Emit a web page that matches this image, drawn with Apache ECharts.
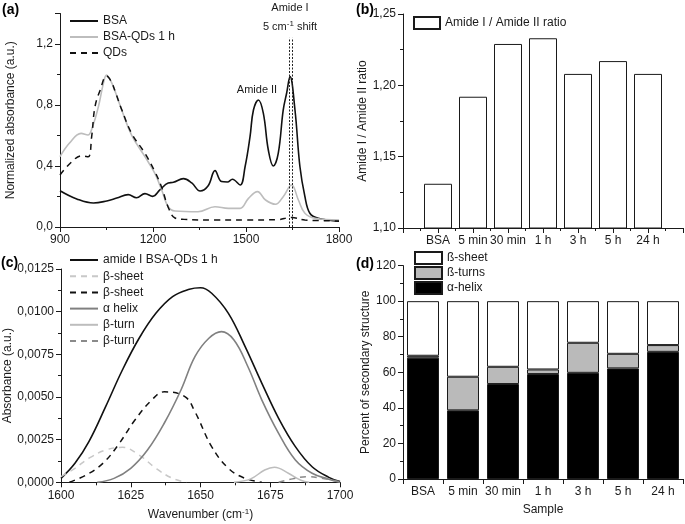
<!DOCTYPE html>
<html>
<head>
<meta charset="utf-8">
<script src="https://cdn.jsdelivr.net/npm/echarts@6/dist/echarts.min.js"></script>
<style>
  html, body { margin: 0; padding: 0; background: #fff; }
  #main { width: 685px; height: 524px; }
</style>
</head>
<body>
<div id="main"></div>
<script>
// (a) FTIR spectra
const bsaWave = [900, 954, 1008, 1051, 1083, 1120, 1147, 1174, 1199, 1223, 1249, 1266, 1298, 1325, 1352, 1378, 1400, 1421, 1440, 1456, 1481, 1497, 1513, 1524, 1540, 1556, 1572, 1588, 1604, 1620, 1631, 1642, 1658, 1674, 1690, 1706, 1733, 1800];
const bsaAbs = [0.238, 0.184, 0.157, 0.171, 0.19, 0.212, 0.192, 0.219, 0.201, 0.245, 0.289, 0.293, 0.317, 0.289, 0.236, 0.27, 0.37, 0.298, 0.295, 0.313, 0.275, 0.395, 0.592, 0.767, 0.833, 0.745, 0.505, 0.40, 0.483, 0.767, 0.877, 0.986, 0.767, 0.395, 0.2, 0.09, 0.057, 0.038];
const mixWave = [900, 930, 968, 990, 1005, 1024, 1040, 1050, 1065, 1080, 1099, 1131, 1174, 1206, 1228, 1249, 1271, 1345, 1400, 1443, 1481, 1508, 1537, 1563, 1595, 1620, 1647, 1669, 1690, 1722, 1800];
const mixAbs = [0.461, 0.549, 0.614, 0.603, 0.658, 0.79, 0.942, 0.997, 0.953, 0.877, 0.767, 0.603, 0.461, 0.352, 0.243, 0.133, 0.105, 0.1, 0.133, 0.122, 0.122, 0.188, 0.232, 0.177, 0.149, 0.199, 0.275, 0.177, 0.09, 0.057, 0.046];
const qdWave = [900, 938, 970, 991, 1002, 1013, 1030, 1050, 1065, 1080, 1099, 1131, 1174, 1206, 1228, 1249, 1271, 1300, 1400, 1500, 1600, 1647, 1690, 1800];
const qdAbs = [0.341, 0.428, 0.467, 0.46, 0.59, 0.79, 0.9, 0.99, 0.955, 0.877, 0.77, 0.614, 0.483, 0.363, 0.26, 0.13, 0.059, 0.05, 0.046, 0.046, 0.048, 0.063, 0.046, 0.04];
const shiftLines = [1641, 1649];
const shiftTop = 1.24;

// (b) amide I / amide II ratio
const samples = ['BSA', '5 min', '30 min', '1 h', '3 h', '5 h', '24 h'];
const ratios = [1.131, 1.192, 1.229, 1.233, 1.208, 1.217, 1.208];

// (c) amide I band deconvolution
const totWave = [1600, 1605, 1610, 1616, 1622, 1628, 1634, 1640, 1646, 1650, 1654, 1660, 1666, 1672, 1678, 1684, 1690, 1696, 1700];
const totAbs = [0.00023, 0.00111, 0.00238, 0.00443, 0.00658, 0.00844, 0.0099, 0.01088, 0.01131, 0.0114, 0.01108, 0.0099, 0.00795, 0.0058, 0.00375, 0.00209, 0.00091, 0.00029, 0.00004];
const sheet1Wave = [1600, 1605, 1610, 1616, 1622, 1628, 1634, 1640, 1645];
const sheet1Abs = [0.00033, 0.00082, 0.00141, 0.00189, 0.00205, 0.0016, 0.00082, 0.00023, 0];
const sheet2Wave = [1603, 1609, 1615, 1620.5, 1626.5, 1632.5, 1637, 1644.4, 1648, 1654, 1660, 1666, 1672];
const sheet2Abs = [0, 0.00043, 0.00111, 0.00219, 0.00365, 0.00482, 0.0053, 0.00502, 0.00414, 0.00209, 0.00082, 0.00023, 0];
const helixWave = [1613, 1619, 1625, 1631, 1637, 1643, 1648, 1653, 1657.5, 1662, 1667, 1672, 1678, 1684, 1690, 1696, 1700];
const helixAbs = [0, 0.00023, 0.00082, 0.00189, 0.00346, 0.00541, 0.00736, 0.00844, 0.00883, 0.00834, 0.00677, 0.00482, 0.00287, 0.00131, 0.00053, 0.00018, 0];
const turn1Wave = [1662, 1668, 1673, 1676.5, 1681.5, 1686, 1689];
const turn1Abs = [0, 0.0002, 0.00072, 0.00088, 0.00053, 0.00012, 0];
const turn2Wave = [1678, 1683, 1688, 1693, 1700];
const turn2Abs = [0, 0.0002, 0.00033, 0.00025, 0.00003];

// (d) secondary structure percentages
const helixPct = [68.2, 38.6, 53.4, 59.0, 59.7, 62.2, 71.5];
const turnPct = [1.1, 18.9, 9.7, 2.6, 16.9, 8.2, 3.8];
const sheetPct = [30.7, 42.5, 36.9, 38.4, 23.4, 29.6, 24.7];

const zip = (xs, ys) => xs.map((x, i) => [x, ys[i]]);
const comma = d => v => v.toFixed(d).replace('.', ',');
const plain = v => String(v);
const FONT = '"Liberation Sans", Arial, sans-serif';
const INK = '#1a1a1a';

function axisBase(extra) {
    return Object.assign({
        axisLine: { show: true, onZero: false, lineStyle: { color: INK, width: 1 } },
        axisTick: { show: true, length: 5, lineStyle: { color: INK } },
        minorTick: { show: true, splitNumber: 2, length: 3, lineStyle: { color: INK } },
        splitLine: { show: false },
        axisLabel: { color: INK, fontSize: 12, margin: 7 },
        nameTextStyle: { color: INK, fontSize: 12 }
    }, extra);
}
const label = (formatter, more) => Object.assign({ color: INK, fontSize: 12, margin: 7, formatter }, more);

const chart = echarts.init(document.getElementById('main'));
const lineSeries = (name, xs, ys, axis, color, width, type) => ({
    name, type: 'line', xAxisIndex: axis, yAxisIndex: axis,
    data: zip(xs, ys), smooth: 0.4, symbol: 'none', silent: true,
    lineStyle: { color, width, type: type || 'solid' },
    itemStyle: { color }
});

const bsa = lineSeries('BSA', bsaWave, bsaAbs, 0, '#111', 1.6);
bsa.markLine = {
    silent: true, symbol: 'none', label: { show: false },
    lineStyle: { color: '#222', width: 1, type: [2, 1.5] },
    data: shiftLines.map(w => [{ coord: [w, 0] }, { coord: [w, shiftTop] }])
};

// line legends: hide the marker, keep the stroke
const lineLegend = { itemWidth: 28, itemHeight: 10, textStyle: { fontSize: 12, color: INK },
    selectedMode: false, orient: 'vertical', itemStyle: { opacity: 0 } };

const option = {
    animation: false,
    textStyle: { fontFamily: FONT },
    grid: [
        { left: 60, top: 13.5, width: 279, height: 213.5, containLabel: false, outerBoundsMode: 'none' },
        { left: 403, top: 14, width: 280, height: 214, containLabel: false, outerBoundsMode: 'none' },
        { left: 61, top: 269, width: 279, height: 213.3, containLabel: false, outerBoundsMode: 'none' },
        { left: 403, top: 265.6, width: 280, height: 213.4, containLabel: false, outerBoundsMode: 'none' }
    ],
    xAxis: [
        axisBase({ type: 'value', gridIndex: 0, min: 900, max: 1800, interval: 300, axisLabel: label(plain) }),
        axisBase({ type: 'value', gridIndex: 1, min: 0, max: 8, interval: 1,
            axisLabel: label(v => samples[v - 1] || '') }),
        axisBase({ type: 'value', gridIndex: 2, min: 1600, max: 1700, interval: 25, axisLabel: label(plain),
            name: 'Wavenumber (cm{sup|-1})', nameLocation: 'middle', nameGap: 25,
            nameTextStyle: { color: INK, fontSize: 12, rich: { sup: { fontSize: 8, verticalAlign: 'top', padding: [0, 0, 6, 0], color: INK } } } }),
        axisBase({ type: 'category', gridIndex: 3, data: samples, boundaryGap: true,
            axisLabel: label(null, { interval: 0 }),
            name: 'Sample', nameLocation: 'middle', nameGap: 25,
            minorTick: { show: false } })
    ],
    yAxis: [
        axisBase({ type: 'value', gridIndex: 0, min: 0, max: 1.4, interval: 0.4,
            name: 'Normalized absorbance (a.u.)', nameLocation: 'middle', nameGap: 43,
            axisLabel: label(comma(1), { showMaxLabel: false }) }),
        axisBase({ type: 'value', gridIndex: 1, min: 1.10, max: 1.25, interval: 0.05,
            name: 'Amide I / Amide II ratio', nameLocation: 'middle', nameGap: 30,
            axisLabel: label(comma(2)) }),
        axisBase({ type: 'value', gridIndex: 2, min: 0, max: 0.0125, interval: 0.0025,
            name: 'Absorbance (a.u.)', nameLocation: 'middle', nameGap: 44,
            axisLabel: label(comma(4)) }),
        axisBase({ type: 'value', gridIndex: 3, min: 0, max: 120, interval: 20,
            name: 'Percent of secondary structure', nameLocation: 'middle', nameGap: 29 })
    ],
    legend: [
        Object.assign({}, lineLegend, { data: ['BSA', 'BSA-QDs 1 h', 'QDs'], left: 64, top: 10, itemGap: 4 }),
        { data: ['Amide I / Amide II ratio'], left: 408, top: 11, icon: 'rect',
          itemWidth: 26, itemHeight: 12, textStyle: { fontSize: 12, color: INK }, selectedMode: false },
        Object.assign({}, lineLegend, { data: ['amide I BSA-QDs 1 h', 'β-sheet', 'β-sheet ', 'α helix', 'β-turn', 'β-turn '],
          left: 64, top: 249, itemGap: 4.2 }),
        { data: ['ß-sheet', 'ß-turns', 'α-helix'], orient: 'vertical', left: 409, top: 246, icon: 'rect',
          itemWidth: 27, itemHeight: 12, itemGap: 1, textStyle: { fontSize: 12, color: INK }, selectedMode: false }
    ],
    series: [
        bsa,
        lineSeries('BSA-QDs 1 h', mixWave, mixAbs, 0, '#bdbdbd', 1.6),
        lineSeries('QDs', qdWave, qdAbs, 0, '#111', 1.5, [6, 5]),
        {
            name: 'Amide I / Amide II ratio', type: 'bar', xAxisIndex: 1, yAxisIndex: 1,
            data: samples.map((s, i) => [i + 1, ratios[i]]), barWidth: 28, silent: true,
            itemStyle: { color: '#fff', borderColor: INK, borderWidth: 1 }
        },
        lineSeries('amide I BSA-QDs 1 h', totWave, totAbs, 2, '#111', 1.6),
        lineSeries('β-sheet', sheet1Wave, sheet1Abs, 2, '#c8c8c8', 1.5, [6, 5]),
        lineSeries('β-sheet ', sheet2Wave, sheet2Abs, 2, '#111', 1.5, [6, 5]),
        lineSeries('α helix', helixWave, helixAbs, 2, '#808080', 1.6),
        lineSeries('β-turn', turn1Wave, turn1Abs, 2, '#bdbdbd', 1.5),
        lineSeries('β-turn ', turn2Wave, turn2Abs, 2, '#8a8a8a', 1.5, [6, 5]),
        {
            name: 'α-helix', type: 'bar', stack: 'ss', xAxisIndex: 3, yAxisIndex: 3,
            data: helixPct, barWidth: 32, silent: true,
            itemStyle: { color: '#000', borderColor: INK, borderWidth: 1 }
        },
        {
            name: 'ß-turns', type: 'bar', stack: 'ss', xAxisIndex: 3, yAxisIndex: 3,
            data: turnPct, barWidth: 32, silent: true,
            itemStyle: { color: '#bababa', borderColor: INK, borderWidth: 1 }
        },
        {
            name: 'ß-sheet', type: 'bar', stack: 'ss', xAxisIndex: 3, yAxisIndex: 3,
            data: sheetPct, barWidth: 32, silent: true,
            itemStyle: { color: '#fff', borderColor: INK, borderWidth: 1 }
        }
    ],
    graphic: [
        { type: 'text', left: 2, top: 3, style: { text: '(a)', font: 'bold 14px ' + FONT, fill: '#000' } },
        { type: 'text', left: 356, top: 3, style: { text: '(b)', font: 'bold 14px ' + FONT, fill: '#000' } },
        { type: 'text', left: 1, top: 256, style: { text: '(c)', font: 'bold 14px ' + FONT, fill: '#000' } },
        { type: 'text', left: 356, top: 257, style: { text: '(d)', font: 'bold 14px ' + FONT, fill: '#000' } },
        { type: 'text', x: 290, y: 8, style: { text: 'Amide I', align: 'center', verticalAlign: 'middle', fontSize: 11, fontFamily: FONT, fill: INK } },
        { type: 'text', x: 290, y: 27, style: { text: '5 cm{sup|-1} shift', align: 'center', verticalAlign: 'middle', fontSize: 11, fontFamily: FONT, fill: INK,
            rich: { sup: { fontSize: 8, verticalAlign: 'top', padding: [0, 0, 6, 0], fill: INK } } } },
        { type: 'text', x: 257, y: 90, style: { text: 'Amide II', align: 'center', verticalAlign: 'middle', fontSize: 11, fontFamily: FONT, fill: INK } }
    ]
};

chart.setOption(option);
</script>
</body>
</html>
